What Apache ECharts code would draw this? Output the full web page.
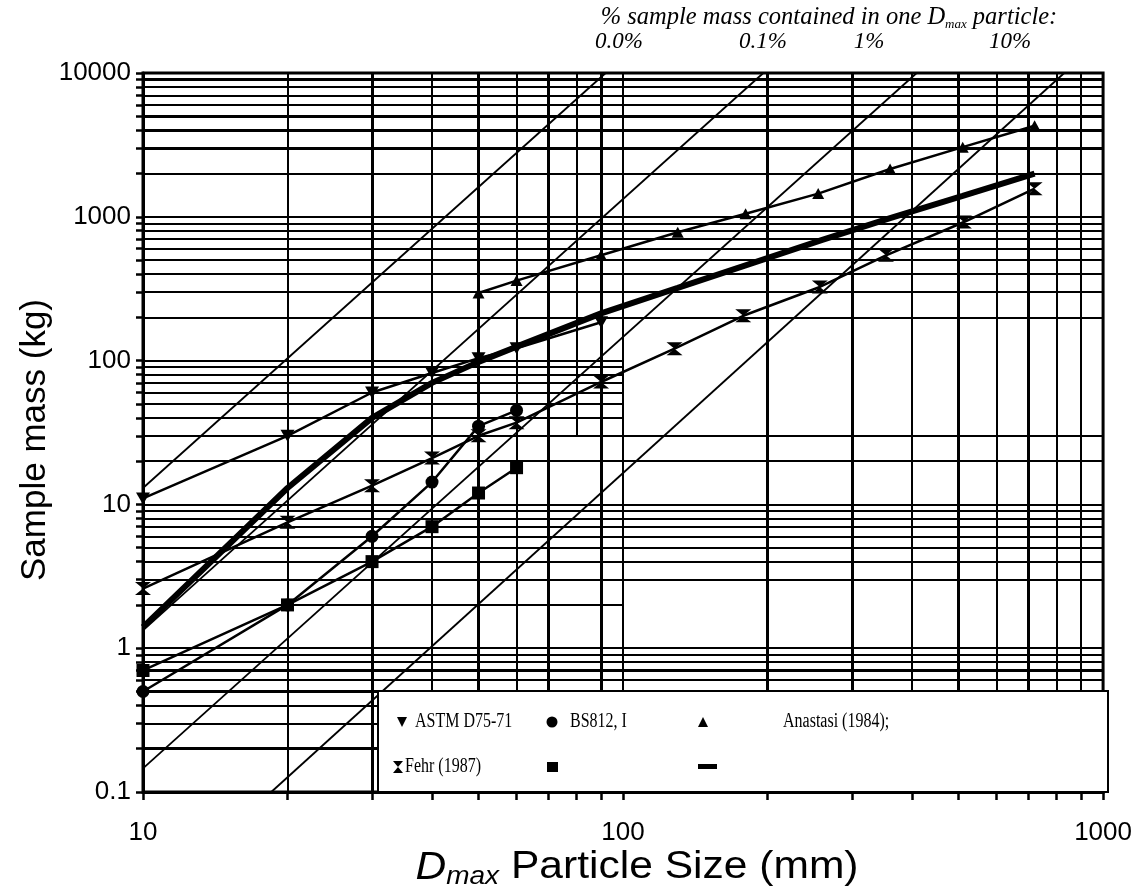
<!DOCTYPE html>
<html>
<head>
<meta charset="utf-8">
<script src="https://cdn.jsdelivr.net/npm/echarts@6/dist/echarts.min.js"></script>
<style>
  html, body { margin: 0; padding: 0; background: #fff; }
  #chart { width: 1135px; height: 894px; }
</style>
</head>
<body>
<div id="chart"></div>
<script>
// ---- data ----
var xMin = 10, xMax = 1000;
var yMin = 0.1, yMax = 10000;
var xLabels = [10, 100, 1000];
// grid lines of the log paper
var gridX = [20, 30, 40, 50, 60, 70, 90, 100, 200, 300, 400, 500, 600, 700, 800, 900];
var gridXShort = [80];            // only runs from y=30 up to the top
var gridY = [0.2, 0.3, 0.4, 0.5, 0.6, 0.7, 0.8, 0.9, 1,
             3, 4, 5, 6, 7, 8, 9, 10, 20, 30,
             200, 300, 400, 500, 600, 700, 800, 900, 1000,
             2000, 3000, 4000, 5000, 6000, 7000, 8000, 9000];
var gridYShort = [2, 40, 50, 60, 70, 80, 90, 100];   // only between x=10 and x=100
var heavyX = [30, 50, 70, 90, 200, 300, 500, 700];
var heavyY = [0.2, 0.5, 0.7, 3000, 4000, 5000, 9000];

var astm     = [[10, 11], [20, 30], [30, 60], [40, 82], [50, 104], [60, 122], [90, 185]];
var bs812    = [[10, 0.5], [20, 2], [30, 6], [40, 14.3], [50, 35], [60, 45]];
var squares  = [[10, 0.7], [20, 2], [30, 4], [40, 7], [50, 12], [60, 18]];
var anastasi = [[50, 295], [60, 360], [90, 540], [130, 780], [180, 1050], [255, 1450], [360, 2150], [510, 3050], [720, 4300]];
var fehr     = [[10, 2.6], [20, 7.5], [30, 13.5], [40, 21], [50, 30], [60, 37], [90, 71], [128, 121], [178, 205], [257, 325], [353, 540], [513, 920], [720, 1570]];
var thick    = [[10, 1.4], [20, 13], [30, 40], [40, 70], [50, 98], [60, 125], [90, 213], [130, 320], [180, 460], [260, 690], [360, 980], [510, 1400], [720, 2000]];

// "% of sample mass in one Dmax particle" guide lines (end points)
var pctLabels = ['0.0%', '0.1%', '1%', '10%'];
var pctLines = [
  [[10, 13], [92, 10000]],
  [[10, 1.33], [196, 10000]],
  [[10, 0.146], [409, 10000]],
  [[18.5, 0.1], [830, 10000]]
];

// ---- chart ----
var chart = echarts.init(document.getElementById('chart'));

var downTri = 'path://M0,0L10,0L5,9Z';
var hourglass = 'path://M0,0L10,0L5,5L10,10L0,10L5,5Z';

function dataLine(name, data, symbol, size) {
  return {
    name: name, type: 'line', data: data, z: 5,
    symbol: symbol, symbolSize: size, showSymbol: true,
    itemStyle: { color: '#000' },
    lineStyle: { color: '#000', width: 2.5 },
    animation: false
  };
}
function w(list, v) { return list.indexOf(v) >= 0 ? 3 : 2; }

var gridLines = []
  .concat(gridX.map(function (v) { return { xAxis: v, lineStyle: { width: w(heavyX, v) } }; }))
  .concat(gridY.map(function (v) { return { yAxis: v, lineStyle: { width: w(heavyY, v) } }; }))
  .concat(gridXShort.map(function (v) { return [{ coord: [v, 30] }, { coord: [v, yMax] }]; }))
  .concat(gridYShort.map(function (v) { return [{ coord: [xMin, v] }, { coord: [100, v] }]; }));

var seriesList = [];
// grid lines through the axes' scales
seriesList.push({
  type: 'line', data: [], z: 1, silent: true, animation: false,
  markLine: {
    silent: true, symbol: 'none', animation: false,
    label: { show: false },
    lineStyle: { type: 'solid', color: '#000', width: 2 },
    data: gridLines
  }
});
pctLines.forEach(function (pts, i) {
  seriesList.push({
    name: pctLabels[i], type: 'line', data: pts, z: 3, symbol: 'none',
    lineStyle: { color: '#000', width: 1.8 }, animation: false, silent: true
  });
});
seriesList.push({
  type: 'line', data: thick, z: 4, symbol: 'none',
  lineStyle: { color: '#000', width: 6 }, animation: false
});
seriesList.push(dataLine('ASTM D75-71', astm, downTri, [14, 12]));
seriesList.push(dataLine('BS812, I', bs812, 'circle', 13));
seriesList.push(dataLine('squares', squares, 'rect', 13));
seriesList.push(dataLine('Anastasi (1984)', anastasi, 'triangle', [12, 11]));
seriesList.push(dataLine('Fehr (1987)', fehr, hourglass, [16, 13]));

function numLabel(v) { return String(+Number(v).toPrecision(6)); }

// legend box drawn by hand (original has a partly blank legend)
var serif = '"Liberation Serif", "DejaVu Serif", serif';
function lt(x, y, s) {
  return { type: 'text', x: x, y: y, z: 101, scaleX: 0.8, style: {
    text: s, fill: '#000', font: '20px ' + serif, textVerticalAlign: 'middle' } };
}
var legendEls = [
  { type: 'rect', z: 100, shape: { x: 378, y: 691, width: 730, height: 101 },
    style: { fill: '#fff', stroke: '#000', lineWidth: 2 } },
  { type: 'polygon', z: 101, shape: { points: [[397, 717], [407, 717], [402, 727]] }, style: { fill: '#000' } },
  lt(415, 722, 'ASTM D75-71'),
  { type: 'circle', z: 101, shape: { cx: 552, cy: 722, r: 5.5 }, style: { fill: '#000' } },
  lt(570, 722, 'BS812, I'),
  { type: 'polygon', z: 101, shape: { points: [[698, 727], [708, 727], [703, 717]] }, style: { fill: '#000' } },
  lt(783, 722, 'Anastasi (1984);'),
  { type: 'polygon', z: 101, shape: { points: [[393, 761], [403, 761], [398, 767], [403, 773], [393, 773], [398, 767]] }, style: { fill: '#000' } },
  lt(405, 767, 'Fehr (1987)'),
  { type: 'rect', z: 101, shape: { x: 547, y: 762, width: 11, height: 10 }, style: { fill: '#000' } },
  { type: 'rect', z: 101, shape: { x: 698, y: 764, width: 19, height: 5 }, style: { fill: '#000' } }
];

// top annotation + percentage labels
var pctX = [619, 763, 869, 1010];
var topTexts = [
  { type: 'text', x: 829, y: 18, z: 101, style: {
      text: '{a|% sample mass contained in one }{d|D}{s|max}{a| particle:}',
      textAlign: 'center', textVerticalAlign: 'middle', fill: '#000',
      rich: {
        a: { font: 'italic 24.5px ' + serif, lineHeight: 26 },
        d: { font: 'italic 24.5px ' + serif, lineHeight: 26 },
        s: { font: 'italic 13px ' + serif, lineHeight: 12, verticalAlign: 'bottom' }
      } } }
].concat(pctLabels.map(function (t, i) {
  return { type: 'text', x: pctX[i], y: 42, z: 101, style: {
    text: t, font: 'italic 23px ' + serif, textAlign: 'center', textVerticalAlign: 'middle', fill: '#000' } };
}));

var sans = '"Liberation Sans", Arial, sans-serif';
var titleEls = [
  { type: 'text', x: 35, y: 440, rotation: Math.PI / 2, z: 101, style: {
      text: 'Sample mass (kg)', font: '35px ' + sans, fill: '#000',
      textAlign: 'center', textVerticalAlign: 'middle' } },
  { type: 'text', x: 637, y: 868, z: 101, scaleX: 1.12, style: {
      text: '{d|D}{s|max}{t| Particle Size (mm)}',
      textAlign: 'center', textVerticalAlign: 'middle', fill: '#000',
      rich: {
        d: { font: 'italic 38px ' + sans, lineHeight: 44 },
        s: { font: 'italic 25px ' + sans, lineHeight: 14, verticalAlign: 'bottom' },
        t: { font: '38px ' + sans, lineHeight: 44 }
      } } }
];

var option = {
  backgroundColor: '#fff',
  animation: false,
  grid: { left: 143, right: 27, top: 73, bottom: 102, show: true,
          borderColor: '#000', borderWidth: 3, backgroundColor: 'transparent' },
  xAxis: {
    type: 'log', logBase: 10, min: xMin, max: xMax, splitNumber: 2,
    axisLine: { show: true, lineStyle: { color: '#000', width: 3 } },
    axisTick: { show: true, inside: false, length: 8, lineStyle: { color: '#000', width: 2.5 },
                customValues: xLabels.concat(gridX, gridXShort) },
    axisLabel: { color: '#000', fontSize: 26, fontFamily: sans, margin: 28, formatter: numLabel },
    splitLine: { show: false }
  },
  yAxis: {
    type: 'log', logBase: 10, min: yMin, max: yMax, splitNumber: 5,
    axisLine: { show: true, lineStyle: { color: '#000', width: 3 } },
    axisTick: { show: true, inside: false, length: 7, lineStyle: { color: '#000', width: 2.5 },
                customValues: [yMin, yMax].concat(gridY, gridYShort) },
    axisLabel: { color: '#000', fontSize: 26, fontFamily: sans, margin: 12, formatter: numLabel },
    splitLine: { show: false }
  },
  graphic: legendEls.concat(topTexts, titleEls),
  series: seriesList
};
chart.setOption(option);
</script>
</body>
</html>
